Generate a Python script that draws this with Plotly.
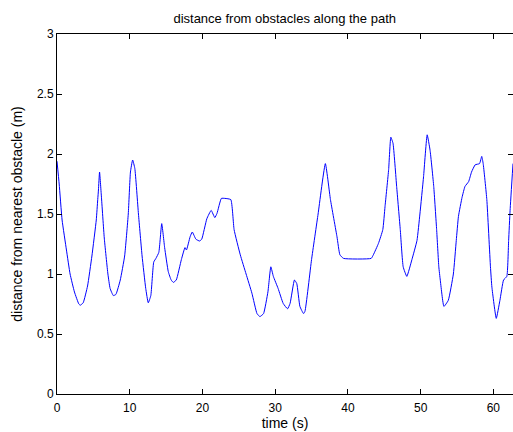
import plotly.graph_objects as go

time_s = [0, 0.3, 0.7, 1.3, 1.8, 2.4, 3.0, 3.2, 3.6, 4.2, 4.8, 5.4, 5.6, 5.7, 5.85, 6.1, 6.5, 7.0, 7.3,
          7.75, 8.1, 8.7, 9.3, 9.8, 10.1, 10.4, 10.7, 11.2, 11.7, 12.2, 12.55, 12.9, 13.3, 13.6, 14.0,
          14.4, 14.8, 15.3, 15.7, 16.0, 16.4, 17.1, 17.6, 17.8, 18.3, 18.6, 19.1, 19.6, 19.9, 20.6,
          21.2, 21.7, 22.0, 22.6, 23.1, 23.9, 24.35, 25.2, 26.0, 26.8, 27.5, 27.9, 28.4, 29.0, 29.4,
          29.75, 30.4, 31.1, 31.7, 32.05, 32.65, 32.97, 33.4, 33.9, 34.1, 35.0, 35.9, 36.9, 37.6,
          38.5, 38.9, 39.4, 43.2, 43.5, 44.2, 44.8, 45.1, 45.6, 45.9, 46.2, 46.7, 47.2, 47.6, 48.1,
          48.8, 49.5, 49.9, 50.4, 50.9, 51.3, 51.8, 52.2, 52.5, 52.7, 53.2, 53.8, 54.5, 54.9, 55.2,
          55.7, 56.1, 56.6, 57.0, 57.5, 58.1, 58.4, 58.6, 59.1, 59.6, 59.8, 60.4, 60.9, 61.4, 61.85,
          62.1, 62.3, 62.7]
distance_m = [1.94, 1.75, 1.45, 1.2, 1.0, 0.85, 0.75, 0.74, 0.76, 0.9, 1.15, 1.45, 1.62, 1.70, 1.85,
              1.65, 1.3, 1.0, 0.88, 0.82, 0.83, 0.95, 1.15, 1.5, 1.85, 1.95, 1.88, 1.5, 1.15, 0.88,
              0.76, 0.82, 1.1, 1.13, 1.18, 1.42, 1.22, 1.02, 0.95, 0.93, 0.95, 1.12, 1.22, 1.2, 1.31,
              1.35, 1.29, 1.275, 1.29, 1.46, 1.53, 1.47, 1.505, 1.63, 1.63, 1.62, 1.37, 1.16, 1.0,
              0.84, 0.67, 0.645, 0.67, 0.85, 1.06, 0.98, 0.88, 0.755, 0.71, 0.755, 0.95, 0.92, 0.73,
              0.67, 0.69, 1.12, 1.5, 1.92, 1.62, 1.31, 1.16, 1.13, 1.13, 1.16, 1.255, 1.37, 1.56,
              1.87, 2.14, 2.09, 1.73, 1.37, 1.06, 0.98, 1.12, 1.28, 1.5, 1.81, 2.16, 2.03, 1.73,
              1.37, 1.06, 0.95, 0.73, 0.78, 1.0, 1.28, 1.48, 1.64, 1.73, 1.77, 1.85, 1.91, 1.92,
              1.98, 1.92, 1.62, 1.06, 0.89, 0.63, 0.78, 0.95, 0.98, 1.28, 1.53, 1.92]

x_ticks = [0, 10, 20, 30, 40, 50, 60]
y_ticks = [0, 0.5, 1, 1.5, 2, 2.5, 3]
y_tick_labels = ["0", "0.5", "1", "1.5", "2", "2.5", "3"]

font = dict(family="Liberation Sans, Arial, sans-serif", size=12, color="black")

fig = go.Figure()
fig.add_trace(go.Scatter(x=time_s, y=distance_m, mode="lines",
                         line=dict(color="#0000ff", width=1, shape="spline", smoothing=0.4),
                         showlegend=False))

axis_common = dict(showline=True, linecolor="black", linewidth=1, mirror="ticks",
                   ticks="inside", ticklen=5, tickcolor="black", showgrid=False,
                   zeroline=False, tickfont=font)

fig.update_layout(
    width=513, height=432,
    margin=dict(l=57, r=0, t=34, b=38),
    paper_bgcolor="white", plot_bgcolor="white",
    font=font,
    title=dict(text="distance from obstacles along the path", x=0.555, xanchor="center",
               y=1 - 18 / 432, yanchor="middle", font=dict(size=13)),
    xaxis=dict(range=[0, 62.7], tickvals=x_ticks, ticklabelstandoff=3,
               title=dict(text="time (s)", standoff=2), **axis_common),
    yaxis=dict(range=[0, 3], tickvals=y_ticks, ticktext=y_tick_labels,
               title=dict(text="distance from nearest obstacle (m)", standoff=11), **axis_common),
)

fig.write_html("out.html")
